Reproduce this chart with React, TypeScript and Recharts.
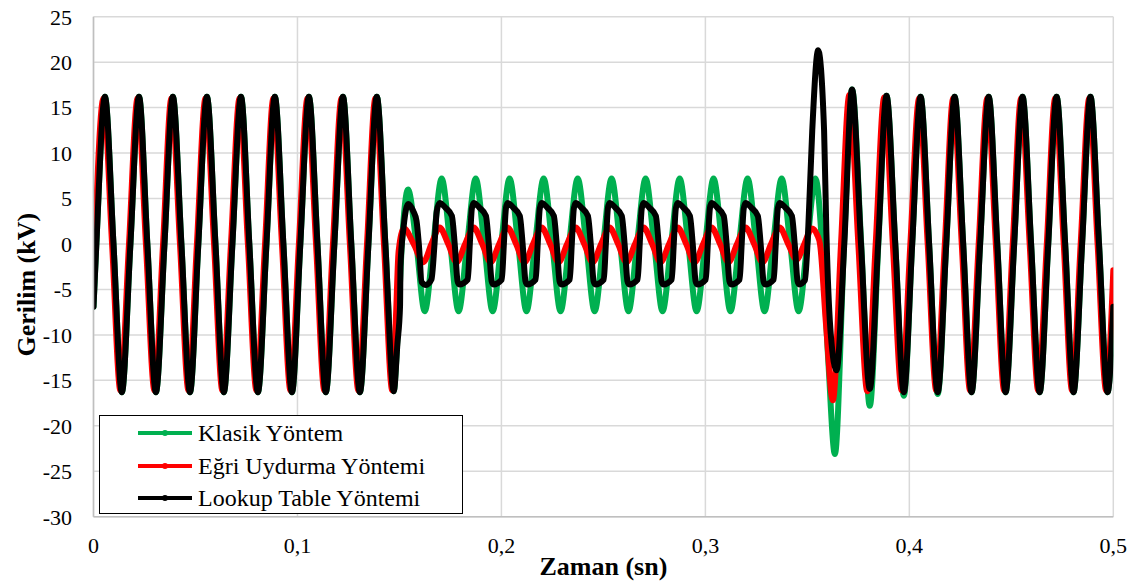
import { CartesianGrid, Legend, Line, LineChart, XAxis, YAxis } from "recharts";

// time (s) / voltage (kV) pairs
const klasikPts: [number, number][] = [
  [0, -6.9],
  [0.0014, 0], [0.0056, 16.2], [0.0098, 0], [0.0139, -16.3],
  [0.0181, 0], [0.0223, 16.2], [0.0264, 0], [0.0306, -16.3],
  [0.0348, 0], [0.0389, 16.2], [0.0431, 0], [0.0473, -16.3],
  [0.0514, 0], [0.0556, 16.2], [0.0598, 0], [0.0639, -16.3],
  [0.0681, 0], [0.0723, 16.2], [0.0764, 0], [0.0806, -16.3],
  [0.0848, 0], [0.0889, 16.2], [0.0931, 0], [0.0973, -16.3],
  [0.1014, 0], [0.1056, 16.2], [0.1098, 0], [0.1139, -16.3],
  [0.1181, 0], [0.1223, 16.2], [0.1264, 0], [0.1306, -16.3],
  [0.1348, 0], [0.1389, 16.2], [0.1431, 0], [0.1472, -16.2],
  [0.149, -10.5], [0.1512, 0], [0.1542, 6.0], [0.1583, 0], [0.1624, -7.4], [0.1666, 0],
  [0.1707, 7.2], [0.1749, 0], [0.179, -7.4], [0.1832, 0],
  [0.1874, 7.2], [0.1916, 0], [0.1957, -7.4], [0.1999, 0],
  [0.204, 7.2], [0.2082, 0], [0.2123, -7.4], [0.2165, 0],
  [0.2207, 7.2], [0.2249, 0], [0.229, -7.4], [0.2332, 0],
  [0.2374, 7.2], [0.2416, 0], [0.2457, -7.4], [0.2499, 0],
  [0.254, 7.2], [0.2582, 0], [0.2623, -7.4], [0.2665, 0],
  [0.2707, 7.2], [0.2749, 0], [0.279, -7.4], [0.2832, 0],
  [0.2874, 7.2], [0.2916, 0], [0.2957, -7.4], [0.2999, 0],
  [0.304, 7.2], [0.3082, 0], [0.3123, -7.4], [0.3165, 0],
  [0.3207, 7.2], [0.3249, 0], [0.329, -7.4], [0.3332, 0],
  [0.3374, 7.2], [0.3416, 0], [0.3457, -7.4], [0.3499, 0],
  [0.354, 7.2], [0.3572, 0], [0.3603, -13.0], [0.3635, -23.1],
  [0.368, 0], [0.3719, 17.0], [0.3764, 0], [0.3806, -17.8],
  [0.3848, 0], [0.3888, 16.3], [0.3931, 0], [0.3973, -16.7],
  [0.4014, 0], [0.4055, 16.2], [0.4097, 0], [0.4139, -16.5],
  [0.4181, 0], [0.4222, 16.2], [0.4264, 0], [0.4305, -16.3],
  [0.4347, 0], [0.4389, 16.2], [0.4431, 0], [0.4472, -16.3],
  [0.4514, 0], [0.4555, 16.2], [0.4597, 0], [0.4639, -16.3],
  [0.4681, 0], [0.4722, 16.2], [0.4764, 0], [0.4805, -16.3],
  [0.4847, 0], [0.4888, 16.2], [0.493, 0], [0.4972, -16.3],
  [0.5, -6.9],
];

const egriPts: [number, number][] = [
  [0, -4.5],
  [0.0007, 0], [0.0049, 16.0], [0.0091, 0], [0.0132, -16.1],
  [0.0174, 0], [0.0216, 16.0], [0.0257, 0], [0.0299, -16.1],
  [0.0341, 0], [0.0382, 16.0], [0.0424, 0], [0.0466, -16.1],
  [0.0507, 0], [0.0549, 16.0], [0.0591, 0], [0.0632, -16.1],
  [0.0674, 0], [0.0716, 16.0], [0.0757, 0], [0.0799, -16.1],
  [0.0841, 0], [0.0882, 16.0], [0.0924, 0], [0.0966, -16.1],
  [0.1007, 0], [0.1049, 16.0], [0.1091, 0], [0.1132, -16.1],
  [0.1174, 0], [0.1216, 16.0], [0.1257, 0], [0.1299, -16.1],
  [0.1341, 0], [0.1382, 16.0], [0.1424, 0], [0.1465, -16.1],
  [0.1483, -8.0], [0.1496, -0.8], [0.1522, 1.7], [0.157, 0], [0.1617, -2.0], [0.1657, 0],
  [0.1697, 1.8], [0.1739, 0], [0.178, -2.0], [0.1822, 0],
  [0.1864, 1.8], [0.1906, 0], [0.1947, -2.0], [0.1989, 0],
  [0.203, 1.8], [0.2072, 0], [0.2113, -2.0], [0.2155, 0],
  [0.2197, 1.8], [0.2239, 0], [0.228, -2.0], [0.2322, 0],
  [0.2364, 1.8], [0.2406, 0], [0.2447, -2.0], [0.2489, 0],
  [0.253, 1.8], [0.2572, 0], [0.2613, -2.0], [0.2655, 0],
  [0.2697, 1.8], [0.2739, 0], [0.278, -2.0], [0.2822, 0],
  [0.2864, 1.8], [0.2906, 0], [0.2947, -2.0], [0.2989, 0],
  [0.303, 1.8], [0.3072, 0], [0.3113, -2.0], [0.3155, 0],
  [0.3197, 1.8], [0.3239, 0], [0.328, -2.0], [0.3322, 0],
  [0.3364, 1.8], [0.3406, 0], [0.3447, -1.7], [0.3485, 0],
  [0.3522, 1.7], [0.3548, 1.0], [0.3562, 0], [0.3592, -9.0], [0.3625, -17.2],
  [0.3665, 0], [0.3706, 16.4], [0.375, 0], [0.3794, -16.2],
  [0.3835, 0], [0.3877, 16.1], [0.3919, 0], [0.3963, -16.1],
  [0.4005, 0], [0.4048, 16.0], [0.409, 0], [0.4132, -16.1],
  [0.4174, 0], [0.4215, 16.0], [0.4257, 0], [0.4298, -16.1],
  [0.434, 0], [0.4382, 16.0], [0.4424, 0], [0.4465, -16.1],
  [0.4507, 0], [0.4548, 16.0], [0.459, 0], [0.4632, -16.1],
  [0.4674, 0], [0.4715, 16.0], [0.4757, 0], [0.4798, -16.1],
  [0.484, 0], [0.4882, 16.0], [0.4923, 0], [0.4965, -16.1],
  [0.5, -2.9],
];

const lookupPts: [number, number][] = [
  [0, -6.9],
  [0.0014, 0], [0.0056, 16.2], [0.0098, 0], [0.0139, -16.3],
  [0.0181, 0], [0.0223, 16.2], [0.0264, 0], [0.0306, -16.3],
  [0.0348, 0], [0.0389, 16.2], [0.0431, 0], [0.0473, -16.3],
  [0.0514, 0], [0.0556, 16.2], [0.0598, 0], [0.0639, -16.3],
  [0.0681, 0], [0.0723, 16.2], [0.0764, 0], [0.0806, -16.3],
  [0.0848, 0], [0.0889, 16.2], [0.0931, 0], [0.0973, -16.3],
  [0.1014, 0], [0.1056, 16.2], [0.1098, 0], [0.1139, -16.3],
  [0.1181, 0], [0.1223, 16.2], [0.1264, 0], [0.1306, -16.3],
  [0.1348, 0], [0.1389, 16.2], [0.1431, 0], [0.1472, -16.2],
  [0.149, -11.0], [0.1503, -6.8], [0.1505, -2.5], [0.1521, 2.0],
  [0.1543, 4.4], [0.1568, 3.6], [0.1584, 2.5], [0.1595, 0], [0.1609, -4.2], [0.163, -4.5], [0.1657, -3.9], [0.1672, 0], [0.1683, 3.6],
  [0.1697, 4.5], [0.1725, 4.0], [0.1757, 3.1], [0.1771, 0], [0.1785, -4.1], [0.1793, -4.45], [0.1835, -3.9], [0.1845, 0], [0.1855, 3.9],
  [0.1864, 4.5], [0.1892, 4.0], [0.1924, 3.1], [0.1938, 0], [0.1952, -4.1], [0.196, -4.45], [0.2002, -3.9], [0.2012, 0], [0.2022, 3.9],
  [0.203, 4.5], [0.2058, 4.0], [0.209, 3.1], [0.2104, 0], [0.2118, -4.1], [0.2126, -4.45], [0.2168, -3.9], [0.2178, 0], [0.2188, 3.9],
  [0.2197, 4.5], [0.2225, 4.0], [0.2257, 3.1], [0.2271, 0], [0.2285, -4.1], [0.2293, -4.45], [0.2335, -3.9], [0.2345, 0], [0.2355, 3.9],
  [0.2364, 4.5], [0.2392, 4.0], [0.2424, 3.1], [0.2438, 0], [0.2452, -4.1], [0.246, -4.45], [0.2502, -3.9], [0.2512, 0], [0.2522, 3.9],
  [0.253, 4.5], [0.2558, 4.0], [0.259, 3.1], [0.2604, 0], [0.2618, -4.1], [0.2626, -4.45], [0.2668, -3.9], [0.2678, 0], [0.2688, 3.9],
  [0.2697, 4.5], [0.2725, 4.0], [0.2757, 3.1], [0.2771, 0], [0.2785, -4.1], [0.2793, -4.45], [0.2835, -3.9], [0.2845, 0], [0.2855, 3.9],
  [0.2864, 4.5], [0.2892, 4.0], [0.2924, 3.1], [0.2938, 0], [0.2952, -4.1], [0.296, -4.45], [0.3002, -3.9], [0.3012, 0], [0.3022, 3.9],
  [0.303, 4.5], [0.3058, 4.0], [0.309, 3.1], [0.3104, 0], [0.3118, -4.1], [0.3126, -4.45], [0.3168, -3.9], [0.3178, 0], [0.3188, 3.9],
  [0.3197, 4.5], [0.3225, 4.0], [0.3257, 3.1], [0.3271, 0], [0.3285, -4.1], [0.3293, -4.45], [0.3335, -3.9], [0.3345, 0], [0.3355, 3.9],
  [0.3364, 4.5], [0.3392, 4.0], [0.3424, 3.1], [0.3438, 0], [0.3452, -4.1], [0.346, -4.45], [0.3488, -4.0],
  [0.3504, 1.5], [0.3524, 12.5], [0.3553, 21.3], [0.3582, 12.5], [0.3593, 1.5], [0.3615, -10.0], [0.3643, -13.9],
  [0.3681, 0], [0.3719, 17.0], [0.3763, 0], [0.3806, -15.95],
  [0.3847, 0], [0.3888, 16.3], [0.3931, 0], [0.3973, -16.3],
  [0.4014, 0], [0.4055, 16.2], [0.4097, 0], [0.4139, -16.3],
  [0.4181, 0], [0.4222, 16.2], [0.4264, 0], [0.4305, -16.3],
  [0.4347, 0], [0.4389, 16.2], [0.4431, 0], [0.4472, -16.3],
  [0.4514, 0], [0.4555, 16.2], [0.4597, 0], [0.4639, -16.3],
  [0.4681, 0], [0.4722, 16.2], [0.4764, 0], [0.4805, -16.3],
  [0.4847, 0], [0.4888, 16.2], [0.493, 0], [0.4972, -16.3],
  [0.5, -6.9],
];

const seriesNames = ["Klasik Yöntem", "Eğri Uydurma Yöntemi", "Lookup Table Yöntemi"];
const seriesColors = ["#00B050", "#FF0000", "#000000"];
const xTicks = [0, 0.1, 0.2, 0.3, 0.4, 0.5];
const yTicks = [-30, -25, -20, -15, -10, -5, 0, 5, 10, 15, 20, 25];

const FONT = "'Liberation Serif', 'Times New Roman', Times, serif";

const toRows = (pts: [number, number][]) => pts.map(([t, v]) => ({ t, v }));

function XTitle(props: any) {
  const { viewBox } = props;
  const cx = viewBox.x + viewBox.width / 2;
  return (
    <text
      x={cx}
      y={viewBox.y + 58.3}
      textAnchor="middle"
      style={{ fontFamily: FONT, fontSize: 26, fontWeight: "bold" }}
      fill="#000"
    >
      Zaman (sn)
    </text>
  );
}

function YTitle(props: any) {
  const { viewBox } = props;
  const x = viewBox.x + 1.5;
  const y = viewBox.y + viewBox.height / 2 + 18;
  return (
    <text
      x={x}
      y={y}
      transform={`rotate(-90 ${x} ${y})`}
      textAnchor="middle"
      style={{ fontFamily: FONT, fontSize: 26, fontWeight: "bold" }}
      fill="#000"
    >
      Gerilim (kV)
    </text>
  );
}

// legend drawn as html so the serif face is applied to the labels
function LegendBox() {
  return (
    <div
      style={{
        boxSizing: "border-box",
        width: 364,
        height: 99,
        border: "1.5px solid #000",
        background: "#fff",
        paddingTop: 1,
        fontFamily: FONT,
        fontSize: 24,
        color: "#000",
      }}
    >
      {seriesNames.map((name, i) => (
        <div key={name} style={{ height: 32.5, display: "flex", alignItems: "center", whiteSpace: "nowrap" }}>
          <svg width={98} height={12} style={{ flex: "none" }}>
            <line x1={38} x2={92} y1={6} y2={6} stroke={seriesColors[i]} strokeWidth={4} />
            <circle cx={65} cy={6} r={3} fill={seriesColors[i]} />
          </svg>
          <span style={{ fontFamily: FONT, lineHeight: "32.5px" }}>{name}</span>
        </div>
      ))}
    </div>
  );
}

export default function App() {
  const series = [klasikPts, egriPts, lookupPts];
  return (
    <div style={{ position: "absolute", left: 0, top: 0, width: 1135, height: 581, background: "#fff", fontFamily: FONT }}>
      <LineChart width={1135} height={581} margin={{ top: 16.7, right: 21.7, bottom: 0, left: 33.5 }}>
        <CartesianGrid stroke="#d9d9d9" strokeWidth={1.5} />
        <XAxis
          type="number"
          dataKey="t"
          domain={[0, 0.5]}
          ticks={xTicks}
          allowDataOverflow
          tickFormatter={(v: number) => String(v).replace(".", ",")}
          tick={{ fontFamily: FONT, fontSize: 22, fill: "#000" }}
          tickLine={false}
          tickSize={0}
          tickMargin={20.7}
          axisLine={{ stroke: "#bfbfbf", strokeWidth: 1.5 }}
          height={64.3}
          label={<XTitle />}
        />
        <YAxis
          type="number"
          domain={[-30, 25]}
          ticks={yTicks}
          allowDataOverflow
          tick={{ fontFamily: FONT, fontSize: 22, fill: "#000" }}
          tickLine={false}
          tickSize={0}
          tickMargin={21.5}
          axisLine={{ stroke: "#bfbfbf", strokeWidth: 1.5 }}
          width={60}
          label={<YTitle />}
        />
        {series.map((pts, i) => (
          <Line
            key={seriesNames[i]}
            name={seriesNames[i]}
            data={toRows(pts)}
            dataKey="v"
            type="monotone"
            stroke={seriesColors[i]}
            strokeWidth={6}
            strokeLinejoin="round"
            strokeLinecap="round"
            dot={false}
            activeDot={false}
            isAnimationActive={false}
          />
        ))}
        <Legend
          layout="horizontal"
          verticalAlign="middle"
          align="center"
          content={() => <LegendBox />}
          wrapperStyle={{ position: "absolute", left: 99, top: 415, width: 364, height: 99 }}
        />
      </LineChart>
    </div>
  );
}
